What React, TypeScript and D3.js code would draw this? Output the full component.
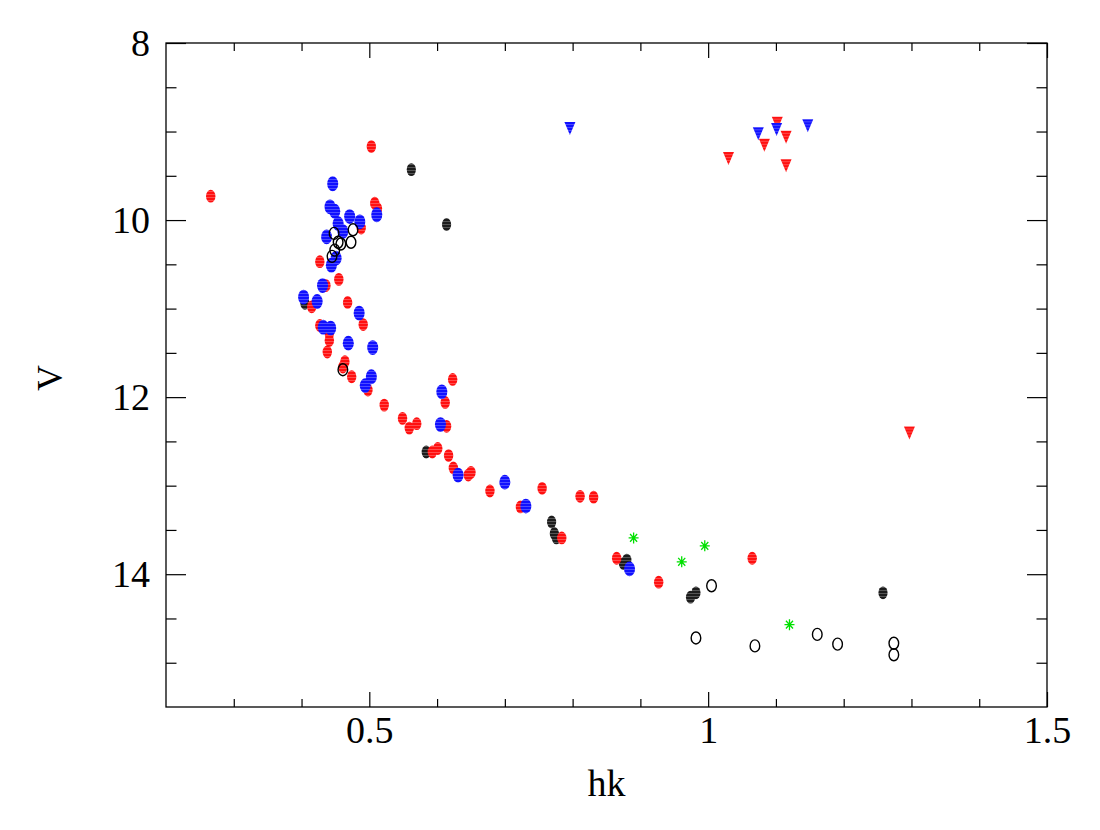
import React, { useEffect, useRef } from 'react';
import * as d3 from 'd3';

// [hk, V]
const redDots = [
    [0.266, 9.73], [0.503, 9.17], [0.508, 9.81], [0.512, 9.87], [0.488, 10.09],
    [0.427, 10.47], [0.455, 10.67], [0.436, 10.74], [0.415, 10.98], [0.468, 10.93],
    [0.491, 11.18], [0.427, 11.19], [0.441, 11.28], [0.441, 11.36], [0.438, 11.49],
    [0.464, 11.60], [0.461, 11.66], [0.474, 11.77], [0.498, 11.92], [0.623, 11.80],
    [0.612, 12.06], [0.522, 12.09], [0.549, 12.24], [0.559, 12.35], [0.570, 12.30],
    [0.614, 12.33], [0.593, 12.62], [0.601, 12.58], [0.617, 12.66], [0.624, 12.80],
    [0.646, 12.88], [0.650, 12.85], [0.678, 13.06], [0.755, 13.03], [0.723, 13.24],
    [0.811, 13.12], [0.831, 13.13], [0.784, 13.59], [0.865, 13.82], [0.927, 14.09],
    [1.065, 13.82]
];

const blueDots = [
    [0.446, 9.59], [0.442, 9.85], [0.449, 9.90], [0.471, 9.96], [0.486, 10.02],
    [0.454, 10.04], [0.461, 10.13], [0.511, 9.94], [0.437, 10.19], [0.451, 10.43],
    [0.444, 10.51], [0.431, 10.74], [0.403, 10.87], [0.423, 10.92], [0.485, 11.05],
    [0.432, 11.21], [0.443, 11.22], [0.469, 11.39], [0.505, 11.44], [0.503, 11.77],
    [0.494, 11.87], [0.607, 11.94], [0.605, 12.31], [0.631, 12.88], [0.700, 12.96],
    [0.731, 13.23], [0.884, 13.94]
];

const blackDots = [
    [0.562, 9.43], [0.614, 10.05], [0.405, 10.94], [0.584, 12.62], [0.769, 13.41],
    [0.773, 13.54], [0.776, 13.59], [0.875, 13.88], [0.880, 13.84], [0.982, 14.21],
    [0.974, 14.26], [1.258, 14.21]
];

const openCircles = [
    [0.448, 10.15], [0.476, 10.11], [0.454, 10.25], [0.458, 10.27], [0.473, 10.25],
    [0.449, 10.34], [0.445, 10.41], [0.461, 11.69], [1.005, 14.13], [0.982, 14.72],
    [1.069, 14.81], [1.161, 14.68], [1.191, 14.79], [1.274, 14.78], [1.274, 14.91]
];

const greenStars = [[0.890, 13.59], [0.961, 13.86], [0.995, 13.68], [1.120, 14.57]];

const redTriangles = [
    [1.030, 9.30], [1.083, 9.15], [1.102, 8.90], [1.115, 9.06], [1.115, 9.38], [1.297, 12.40]
];
const blueTriangles = [[0.796, 8.96], [1.074, 9.02], [1.101, 8.97], [1.147, 8.93]];

const xMajorTicks = [0.5, 1, 1.5];
const xMinorTicks = [0.3, 0.4, 0.6, 0.7, 0.8, 0.9, 1.1, 1.2, 1.3, 1.4];
const yMajorTicks = [8, 10, 12, 14];
const yMinorTicks = [8.5, 9, 9.5, 10.5, 11, 11.5, 12.5, 13, 13.5, 14.5, 15];

const FONT = "'Liberation Serif', 'DejaVu Serif', serif";

export default function App() {
    const ref = useRef<SVGSVGElement>(null);

    useEffect(() => {
        const svg = d3.select(ref.current);
        svg.selectAll("*").remove();

        const left = 166, right = 1047, top = 43, bottom = 707;

        const x = d3.scaleLinear().domain([0.2, 1.5]).range([left, right]);
        const y = d3.scaleLinear().domain([8, 15.5]).range([top, bottom]);

        // striped fills
        const defs = svg.append("defs");
        const stripe = (id: string, color: string) => {
            const p = defs.append("pattern")
                .attr("id", id)
                .attr("patternUnits", "userSpaceOnUse")
                .attr("width", 4)
                .attr("height", 3);
            p.append("rect").attr("width", 4).attr("height", 3).attr("fill", color);
            p.append("rect").attr("y", 2).attr("width", 4).attr("height", 1)
                .attr("fill", "#fff").attr("opacity", 0.25);
        };
        stripe("st-red", "#ff1010");
        stripe("st-blue", "#1010ff");
        stripe("st-black", "#1c1c1c");

        // frame
        svg.append("rect")
            .attr("x", left).attr("y", top)
            .attr("width", right - left).attr("height", bottom - top)
            .attr("fill", "none").attr("stroke", "#000").attr("stroke-width", 1.3);

        // axes, ticks pointing inward
        const styleAxis = (g: any) => {
            g.select(".domain").remove();
            g.selectAll("line").attr("stroke", "#000").attr("stroke-width", 1.2);
            g.selectAll("text")
                .attr("font-family", FONT)
                .attr("font-size", 38)
                .attr("fill", "#000");
        };

        svg.append("g").attr("transform", `translate(0,${bottom})`)
            .call(d3.axisBottom(x).tickValues(xMinorTicks).tickSize(-8).tickFormat(() => ""))
            .call(styleAxis);
        svg.append("g").attr("transform", `translate(0,${bottom})`)
            .call(d3.axisBottom(x).tickValues(xMajorTicks).tickSize(-15).tickPadding(9)
                .tickFormat(d => d3.format("")(d as number)))
            .call(styleAxis);
        svg.append("g").attr("transform", `translate(0,${top})`)
            .call(d3.axisTop(x).tickValues(xMinorTicks).tickSize(-8).tickFormat(() => ""))
            .call(styleAxis);
        svg.append("g").attr("transform", `translate(0,${top})`)
            .call(d3.axisTop(x).tickValues(xMajorTicks).tickSize(-15).tickFormat(() => ""))
            .call(styleAxis);

        svg.append("g").attr("transform", `translate(${left},0)`)
            .call(d3.axisLeft(y).tickValues(yMinorTicks).tickSize(-10.5).tickFormat(() => ""))
            .call(styleAxis);
        svg.append("g").attr("transform", `translate(${left},0)`)
            .call(d3.axisLeft(y).tickValues(yMajorTicks).tickSize(-20).tickPadding(16))
            .call(styleAxis);
        svg.append("g").attr("transform", `translate(${right},0)`)
            .call(d3.axisRight(y).tickValues(yMinorTicks).tickSize(-10.5).tickFormat(() => ""))
            .call(styleAxis);
        svg.append("g").attr("transform", `translate(${right},0)`)
            .call(d3.axisRight(y).tickValues(yMajorTicks).tickSize(-20).tickFormat(() => ""))
            .call(styleAxis);

        // axis titles
        svg.append("text")
            .attr("x", (left + right) / 2)
            .attr("y", 796)
            .attr("text-anchor", "middle")
            .attr("font-family", FONT)
            .attr("font-size", 38)
            .text("hk");

        svg.append("text")
            .attr("transform", `translate(62,${(top + bottom) / 2 + 3}) rotate(-90)`)
            .attr("text-anchor", "middle")
            .attr("font-family", FONT)
            .attr("font-size", 36)
            .text("V");

        const plot = svg.append("g");

        const dots = (data: number[][], fill: string, rx: number, ry: number) => {
            plot.append("g").selectAll("ellipse")
                .data(data)
                .enter()
                .append("ellipse")
                .attr("cx", d => x(d[0]))
                .attr("cy", d => y(d[1]))
                .attr("rx", rx)
                .attr("ry", ry)
                .attr("fill", fill);
        };

        dots(blackDots, "url(#st-black)", 4.6, 6.4);
        dots(redDots, "url(#st-red)", 4.7, 6.4);
        dots(blueDots, "url(#st-blue)", 5.5, 7.4);

        // open circles
        plot.append("g").selectAll("ellipse")
            .data(openCircles)
            .enter()
            .append("ellipse")
            .attr("cx", d => x(d[0]))
            .attr("cy", d => y(d[1]))
            .attr("rx", 4.8)
            .attr("ry", 6)
            .attr("fill", "none")
            .attr("stroke", "#000")
            .attr("stroke-width", 1.4);

        // green asterisks
        const star = d3.path();
        for (let i = 0; i < 4; i++) {
            const a = (i * Math.PI) / 4;
            star.moveTo(-5 * Math.cos(a), -5.5 * Math.sin(a));
            star.lineTo(5 * Math.cos(a), 5.5 * Math.sin(a));
        }
        plot.append("g").selectAll("path")
            .data(greenStars)
            .enter()
            .append("path")
            .attr("transform", d => `translate(${x(d[0])},${y(d[1])})`)
            .attr("d", star.toString())
            .attr("stroke", "#00e000")
            .attr("stroke-width", 1.3)
            .attr("fill", "none");

        // downward triangles
        const tri = "M-5.5,-6L5.5,-6L0,7Z";
        const triangles = (data: number[][], fill: string) => {
            plot.append("g").selectAll("path")
                .data(data)
                .enter()
                .append("path")
                .attr("transform", d => `translate(${x(d[0])},${y(d[1])})`)
                .attr("d", tri)
                .attr("fill", fill);
        };
        triangles(redTriangles, "url(#st-red)");
        triangles(blueTriangles, "url(#st-blue)");
    }, []);

    return (
        <svg ref={ref} width={1100} height={830}
             style={{position: "absolute", left: 0, top: 0, background: "#fff"}}/>
    );
}
